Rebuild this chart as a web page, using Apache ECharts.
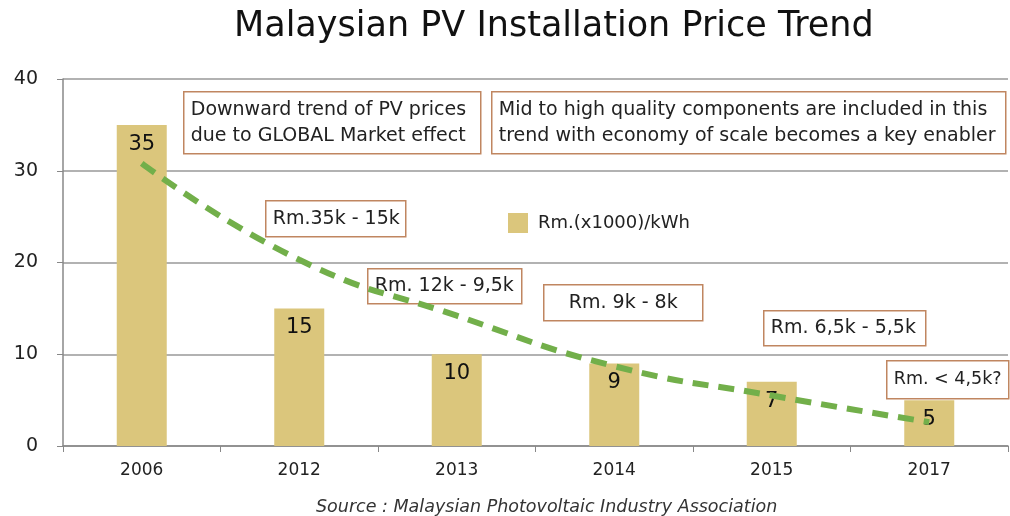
<!DOCTYPE html>
<html><head><meta charset="utf-8">
<script src="https://cdn.jsdelivr.net/npm/echarts@6/dist/echarts.min.js"></script>
<style>html,body{margin:0;padding:0;background:#fff}#c{width:1010px;height:516px}</style>
</head><body><div id="c"></div>
<script>
const categories = ['2006','2012','2013','2014','2015','2017'];
const prices = [35, 15, 10, 9, 7, 5];
const trend = [30.8, 20.3, 14.2, 8.7, 5.5, 2.6];
const seriesName = 'Rm.(x1000)/kWh';
const yTicks = [0, 10, 20, 30, 40];
const titleText = 'Malaysian PV Installation Price Trend';
const sourceText = 'Source : Malaysian Photovoltaic Industry Association';
const notes = [
  'Downward trend of PV prices\ndue to GLOBAL Market effect',
  'Mid to high quality components are included in this\ntrend with economy of scale becomes a key enabler',
  'Rm.35k - 15k',
  'Rm. 12k - 9,5k',
  'Rm. 9k - 8k',
  'Rm. 6,5k - 5,5k',
  'Rm. < 4,5k?'
];

const FONT = 'DejaVu Sans';
const chart = echarts.init(document.getElementById('c'));

function box(text, x, y, w, h, fs, align) {
  const left = align === 'left';
  return {
    type: 'group', left: x, top: y,
    children: [
      { type: 'rect', shape: { x: 0, y: 0, width: w, height: h },
        style: { fill: '#fff', stroke: '#C08660', lineWidth: 1.5 } },
      { type: 'text', x: left ? 7 : w / 2, y: h / 2,
        style: { text: text, fill: '#222', font: fs + 'px "' + FONT + '"',
                 textAlign: left ? 'left' : 'center', textVerticalAlign: 'middle', lineHeight: fs * 1.35 } }
    ]
  };
}

chart.setOption({
  animation: false,
  title: {
    text: titleText, left: 229, top: 4,
    textStyle: { fontFamily: FONT, fontSize: 35, fontWeight: 'normal', color: '#111' }
  },
  legend: {
    data: [{ name: seriesName, icon: 'rect' }], left: 503, top: 208, itemWidth: 20, itemHeight: 20, itemGap: 10,
    textStyle: { fontFamily: FONT, fontSize: 18, color: '#222', padding: [0, 0, 0, 5] }
  },
  grid: { left: 63, right: 2, top: 79, bottom: 70 },
  xAxis: {
    type: 'category', data: categories, boundaryGap: true,
    axisLine: { lineStyle: { color: '#888', width: 1.5 } },
    axisTick: { show: true, length: 6, lineStyle: { color: '#888' } },
    axisLabel: { fontFamily: FONT, fontSize: 17, color: '#222', margin: 16 }
  },
  yAxis: {
    type: 'value', min: yTicks[0], max: yTicks[yTicks.length - 1], interval: 10,
    axisLine: { show: true, lineStyle: { color: '#888', width: 1.5 } },
    axisTick: { show: true, length: 6, lineStyle: { color: '#888' } },
    splitLine: { lineStyle: { color: '#999', width: 1.5 } },
    axisLabel: { fontFamily: FONT, fontSize: 19, color: '#222', margin: 25 }
  },
  series: [
    {
      name: seriesName, type: 'bar', data: prices, barWidth: 50,
      itemStyle: { color: '#DBC67C' },
      label: { show: true, position: 'insideTop', distance: 9,
               fontFamily: FONT, fontSize: 21, color: '#111' },
      z: 2
    },
    {
      name: 'trend', type: 'line', data: trend, smooth: true, symbol: 'none',
      lineStyle: { color: '#72AF4A', width: 6, type: [16, 10] },
      z: 3
    }
  ],
  graphic: [
    box(notes[0], 183, 91, 297, 62, 19, 'left'),
    box(notes[1], 491, 91, 514, 62, 19, 'left'),
    box(notes[2], 265, 200, 140, 36, 19, 'left'),
    box(notes[3], 367, 268, 154, 35, 19, 'left'),
    box(notes[4], 543, 284, 159, 36, 19, 'center'),
    box(notes[5], 763, 310, 162, 35, 19, 'left'),
    box(notes[6], 886, 360, 122, 38, 17.5, 'left'),
    { type: 'text', left: 316, top: 498,
      style: { text: sourceText, fill: '#333', font: 'italic 17.5px "' + FONT + '"' } }
  ]
});
</script></body></html>
